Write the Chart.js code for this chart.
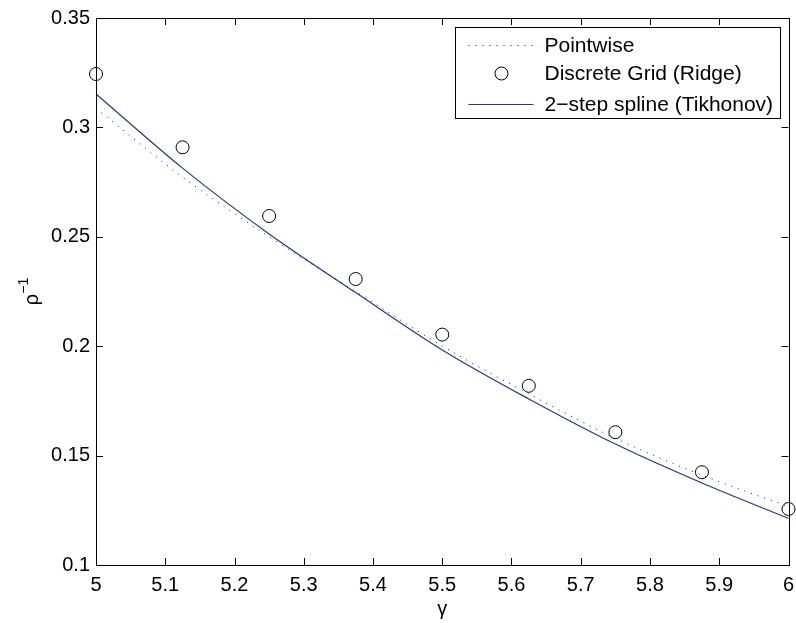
<!DOCTYPE html>
<html>
<head>
<meta charset="utf-8">
<script src="https://cdn.jsdelivr.net/npm/chart.js@4"></script>
<style>
  html, body { margin: 0; padding: 0; background: #fff; }
  #chart { display: block; }
</style>
</head>
<body>
<canvas id="chart" width="796" height="623"></canvas>
<script>
"use strict";

// gamma values where the estimates were evaluated
const gammaGrid = [5, 5.125, 5.25, 5.375, 5.5, 5.625, 5.75, 5.875, 6];
const pointwise = [0.3087, 0.2773, 0.2500, 0.2250, 0.2001, 0.1782, 0.1579, 0.1411, 0.1267];
const ridge = [0.3244, 0.2909, 0.2595, 0.2307, 0.2053, 0.1819, 0.1607, 0.1424, 0.1256];
const tikhonov = [0.3153, 0.2814, 0.2513, 0.2245, 0.1983, 0.1759, 0.1553, 0.1375, 0.1213];

const xTicks = [5, 5.1, 5.2, 5.3, 5.4, 5.5, 5.6, 5.7, 5.8, 5.9, 6];
const xTickLabels = ["5", "5.1", "5.2", "5.3", "5.4", "5.5", "5.6", "5.7", "5.8", "5.9", "6"];
const yTicks = [0.1, 0.15, 0.2, 0.25, 0.3, 0.35];
const yTickLabels = ["0.1", "0.15", "0.2", "0.25", "0.3", "0.35"];

const seriesNames = ["Pointwise", "Discrete Grid (Ridge)", "2\u2212step spline (Tikhonov)"];

const FONT = "'Liberation Sans', Arial, Helvetica, sans-serif";
const DOT_BLUE = "#0000ff";
const NAVY = "#1f3a88";

const toPts = (ys) => gammaGrid.map((g, i) => ({ x: g, y: ys[i] }));

// matlab style box with inward ticks, ylabel and legend
const matlabAxes = {
  id: "matlabAxes",
  afterDraw(chart) {
    const { ctx, chartArea: a, scales } = chart;
    const tl = 7;
    ctx.save();
    ctx.strokeStyle = "#000";
    ctx.lineWidth = 1;
    ctx.beginPath();
    xTicks.forEach((v) => {
      const px = Math.round(scales.x.getPixelForValue(v)) + 0.5;
      ctx.moveTo(px, a.bottom); ctx.lineTo(px, a.bottom - tl);
      ctx.moveTo(px, a.top); ctx.lineTo(px, a.top + tl);
    });
    yTicks.forEach((v) => {
      const py = Math.round(scales.y.getPixelForValue(v)) + 0.5;
      ctx.moveTo(a.left, py); ctx.lineTo(a.left + tl, py);
      ctx.moveTo(a.right, py); ctx.lineTo(a.right - tl, py);
    });
    ctx.stroke();
    ctx.strokeRect(Math.round(a.left) + 0.5, Math.round(a.top) + 0.5,
      Math.round(a.right - a.left), Math.round(a.bottom - a.top));

    // y label: rho^-1
    ctx.translate(30, (a.top + a.bottom) / 2);
    ctx.rotate(-Math.PI / 2);
    ctx.fillStyle = "#000";
    ctx.textBaseline = "middle";
    ctx.font = "20px " + FONT;
    const rw = ctx.measureText("\u03c1").width;
    ctx.font = "14px " + FONT;
    const sw = ctx.measureText("\u22121").width;
    const x0 = -(rw + sw) / 2;
    ctx.font = "20px " + FONT;
    ctx.textAlign = "left";
    ctx.fillText("\u03c1", x0, 2);
    ctx.font = "14px " + FONT;
    ctx.fillText("\u22121", x0 + rw, -6);
    ctx.restore();

    // legend
    const bw = 325, bh = 91;
    const bx = Math.round(a.right - 9 - bw) + 0.5;
    const by = Math.round(a.top + 9) + 0.5;
    ctx.save();
    ctx.fillStyle = "#fff";
    ctx.fillRect(bx, by, bw, bh);
    ctx.strokeStyle = "#000";
    ctx.lineWidth = 1;
    ctx.strokeRect(bx, by, bw, bh);
    const rows = [by + 18, by + 46, by + 77];
    ctx.strokeStyle = DOT_BLUE;
    ctx.setLineDash([1, 6]);
    ctx.beginPath();
    ctx.moveTo(bx + 13, rows[0]); ctx.lineTo(bx + 78, rows[0]);
    ctx.stroke();
    ctx.setLineDash([]);
    ctx.strokeStyle = "#000";
    ctx.beginPath();
    ctx.arc(bx + 46, rows[1], 6.5, 0, Math.PI * 2);
    ctx.stroke();
    ctx.strokeStyle = NAVY;
    ctx.lineWidth = 1.2;
    ctx.beginPath();
    ctx.moveTo(bx + 13, rows[2]); ctx.lineTo(bx + 78, rows[2]);
    ctx.stroke();
    ctx.fillStyle = "#000";
    ctx.font = "21px " + FONT;
    ctx.textBaseline = "middle";
    ctx.textAlign = "left";
    seriesNames.forEach((n, i) => ctx.fillText(n, bx + 89, rows[i] + 1));
    ctx.restore();
  },
};

new Chart(document.getElementById("chart"), {
  type: "scatter",
  data: {
    datasets: [
      {
        label: seriesNames[0],
        data: toPts(pointwise),
        showLine: true,
        borderColor: DOT_BLUE,
        borderWidth: 1,
        borderDash: [1, 6],
        pointRadius: 0,
        cubicInterpolationMode: "monotone",
      },
      {
        label: seriesNames[1],
        data: toPts(ridge),
        showLine: false,
        borderColor: "#000",
        backgroundColor: "transparent",
        borderWidth: 1,
        pointRadius: 6.5,
        pointStyle: "circle",
      },
      {
        label: seriesNames[2],
        data: toPts(tikhonov),
        showLine: true,
        borderColor: NAVY,
        borderWidth: 1.2,
        pointRadius: 0,
        cubicInterpolationMode: "monotone",
      },
    ],
  },
  options: {
    responsive: false,
    animation: false,
    devicePixelRatio: 1,
    clip: false,
    layout: { padding: { left: 0, right: 6, top: 18, bottom: 0 } },
    plugins: { legend: { display: false }, tooltip: { enabled: false } },
    scales: {
      x: {
        type: "linear",
        min: 5,
        max: 6,
        grid: { display: false, drawTicks: false },
        border: { display: false },
        afterBuildTicks: (s) => { s.ticks = xTicks.map((v) => ({ value: v })); },
        ticks: {
          padding: 8,
          color: "#000",
          font: { family: FONT, size: 20 },
          maxRotation: 0,
          autoSkip: false,
          callback: (v) => xTickLabels[xTicks.indexOf(v)] ?? "",
        },
        title: {
          display: true,
          text: "\u03b3",
          color: "#000",
          font: { family: FONT, size: 20 },
          padding: { top: 0, bottom: 2 },
        },
        afterFit: (s) => { s.height = 58; s.paddingLeft = 0; s.paddingRight = 0; },
      },
      y: {
        type: "linear",
        min: 0.1,
        max: 0.35,
        grid: { display: false, drawTicks: false },
        border: { display: false },
        afterBuildTicks: (s) => { s.ticks = yTicks.map((v) => ({ value: v })); },
        ticks: {
          padding: 6,
          color: "#000",
          font: { family: FONT, size: 20 },
          autoSkip: false,
          callback: (v) => yTickLabels[yTicks.indexOf(v)] ?? "",
        },
        afterFit: (s) => { s.width = 96; s.paddingTop = 0; s.paddingBottom = 0; },
      },
    },
  },
  plugins: [matlabAxes],
});
</script>
</body>
</html>
